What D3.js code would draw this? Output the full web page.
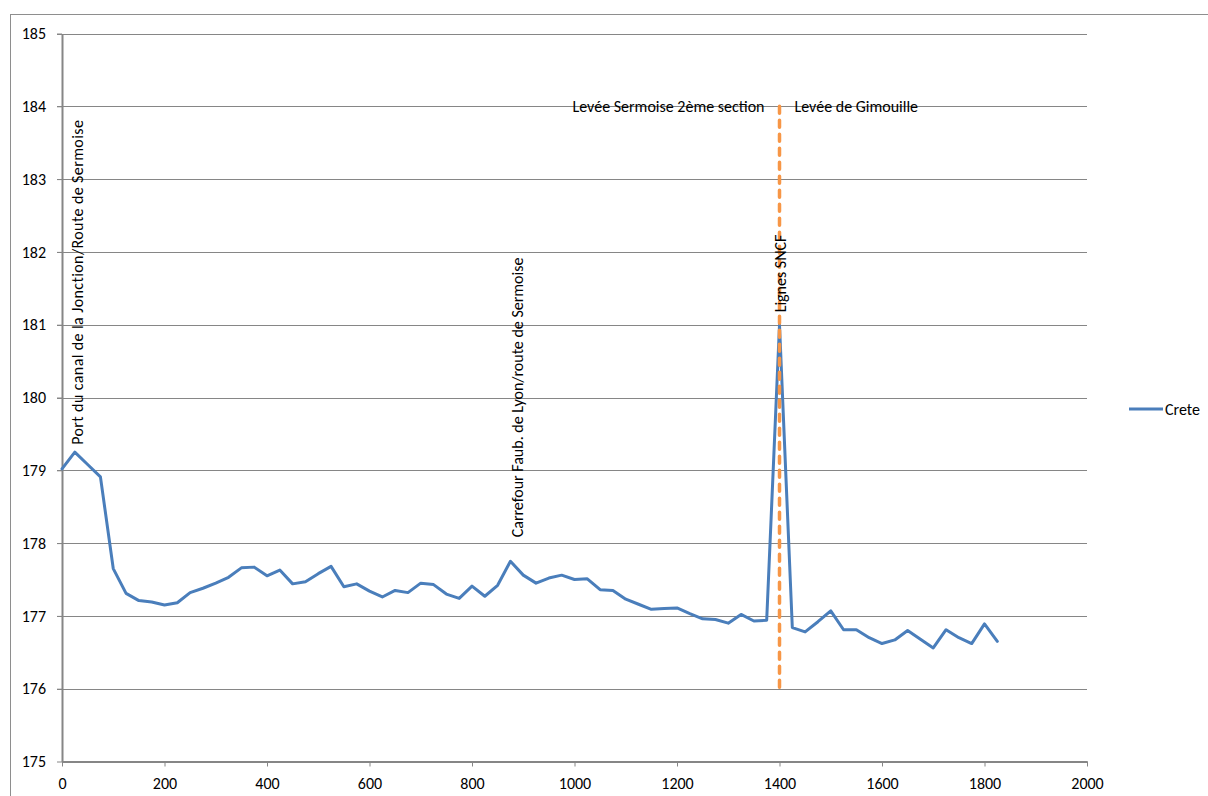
<!DOCTYPE html>
<html>
<head>
<meta charset="utf-8">
<script src="https://cdn.jsdelivr.net/npm/d3@7"></script>
<style>
  html, body { margin: 0; padding: 0; background: #ffffff; }
  svg { display: block; }
  text { font-family: Carlito, Lato, sans-serif; fill: #000000; }
</style>
</head>
<body>
<svg id="chart" width="1208" height="796"></svg>
<script>
// Distance along the levee (m) and crest elevation (m)
const distance = [
  0, 25, 50, 75, 100, 125, 150, 175, 200, 225, 250, 275, 300, 325, 350, 375,
  400, 425, 450, 475, 500, 525, 550, 575, 600, 625, 650, 675, 700, 725, 750, 775,
  800, 825, 850, 875, 900, 925, 950, 975, 1000, 1025, 1050, 1075, 1100, 1125, 1150, 1175,
  1200, 1225, 1250, 1275, 1300, 1325, 1350, 1375, 1400, 1425, 1450, 1475, 1500, 1525, 1550, 1575,
  1600, 1625, 1650, 1675, 1700, 1725, 1750, 1775, 1800, 1825
];
const crete = [
  179.02, 179.25, 179.08, 178.91, 177.65, 177.31, 177.21, 177.19, 177.15, 177.18, 177.32, 177.38, 177.45, 177.53, 177.66, 177.67,
  177.55, 177.63, 177.44, 177.47, 177.58, 177.68, 177.40, 177.44, 177.34, 177.26, 177.35, 177.32, 177.45, 177.43, 177.30, 177.24,
  177.41, 177.27, 177.42, 177.75, 177.56, 177.45, 177.52, 177.56, 177.50, 177.51, 177.36, 177.35, 177.23, 177.16, 177.09, 177.10,
  177.11, 177.03, 176.96, 176.95, 176.90, 177.02, 176.93, 176.94, 181.00, 176.84, 176.78, 176.92, 177.07, 176.81, 176.81, 176.70,
  176.62, 176.67, 176.80, 176.68, 176.56, 176.81, 176.70, 176.62, 176.89, 176.65
];
const seriesName = "Crete";

const xTicks = [0, 200, 400, 600, 800, 1000, 1200, 1400, 1600, 1800, 2000];
const yTicks = [175, 176, 177, 178, 179, 180, 181, 182, 183, 184, 185];

// Vertical place-name labels (baseline distance, bottom elevation)
const placeNames = [
  "Port du canal de la Jonction/Route de Sermoise",
  "Carrefour Faub. de Lyon/route de Sermoise",
  "Lignes SNCF"
];
const placeAt = [40, 900, 1413];
const placeFrom = [179.35, 178.08, 181.17];

// Boundary between the two levee sections
const boundaryAt = 1400;
const boundarySpan = [176, 184];
const sectionNames = ["Levée Sermoise 2ème section", "Levée de Gimouille"];

const svg = d3.select("#chart");
const gridColor = "#868686";
const lineColor = "#4A7EBB";
const boundaryColor = "#F79646";
const fontSize = 16;

const x = d3.scaleLinear().domain([0, 2000]).range([62, 1087]);
const y = d3.scaleLinear().domain([175, 185]).range([761.5, 33.5]);

// Chart area frame
svg.append("rect")
  .attr("x", 10.5).attr("y", 14.5)
  .attr("width", 1300).attr("height", 900)
  .attr("fill", "#ffffff")
  .attr("stroke", "#8e8e8e").attr("stroke-width", 1);

// Horizontal gridlines
svg.append("g")
  .selectAll("line")
  .data(yTicks.filter(v => v !== 175))
  .join("line")
  .attr("x1", x(0) - 5).attr("x2", x(2000))
  .attr("y1", d => Math.round(y(d)) + 0.5).attr("y2", d => Math.round(y(d)) + 0.5)
  .attr("stroke", gridColor).attr("stroke-width", 1);

// Y axis
const yAxis = svg.append("g")
  .attr("transform", `translate(${x(0)},0)`)
  .call(d3.axisLeft(y).tickValues(yTicks).tickSize(5).tickSizeOuter(0).tickPadding(11).tickFormat(d3.format("d")));

// X axis
const xAxis = svg.append("g")
  .attr("transform", `translate(0,${y(175)})`)
  .call(d3.axisBottom(x).tickValues(xTicks).tickSize(5).tickSizeOuter(0).tickPadding(11).tickFormat(d3.format("d")));

[yAxis, xAxis].forEach(g => {
  g.attr("font-family", null).attr("font-size", null);
  g.select(".domain").attr("stroke", gridColor).attr("stroke-width", 2);
  g.selectAll(".tick line").attr("stroke", gridColor).attr("stroke-width", 1);
  g.selectAll(".tick text").attr("font-size", fontSize).attr("fill", "#000");
});

// Crest profile
const points = distance.map((d, i) => [d, crete[i]]);
svg.append("path")
  .datum(points)
  .attr("fill", "none")
  .attr("stroke", lineColor)
  .attr("stroke-width", 3)
  .attr("stroke-linejoin", "round")
  .attr("stroke-linecap", "round")
  .attr("d", d3.line().x(d => x(d[0])).y(d => y(d[1])));

// Section boundary
svg.append("line")
  .attr("x1", x(boundaryAt)).attr("x2", x(boundaryAt))
  .attr("y1", y(boundarySpan[1])).attr("y2", y(boundarySpan[0]))
  .attr("stroke", boundaryColor)
  .attr("stroke-width", 3.5)
  .attr("stroke-dasharray", "7 7")
  .attr("stroke-linecap", "round");

// Section names either side of the boundary
svg.append("text")
  .attr("x", x(boundaryAt) - 15).attr("y", y(boundarySpan[1]))
  .attr("dy", "0.35em")
  .attr("text-anchor", "end")
  .attr("font-size", fontSize)
  .text(sectionNames[0]);
svg.append("text")
  .attr("x", x(boundaryAt) + 15).attr("y", y(boundarySpan[1]))
  .attr("dy", "0.35em")
  .attr("text-anchor", "start")
  .attr("font-size", fontSize)
  .text(sectionNames[1]);

// Vertical place-name labels (the long first one is set slightly looser)
svg.append("g")
  .selectAll("text")
  .data(placeNames)
  .join("text")
  .attr("transform", (d, i) => `translate(${x(placeAt[i])},${y(placeFrom[i])}) rotate(-90)`)
  .attr("text-anchor", "start")
  .attr("font-size", fontSize)
  .attr("letter-spacing", (d, i) => i === 0 ? 0.4 : null)
  .text(d => d);

// Legend
const legend = svg.append("g").attr("transform", "translate(1129,409)");
legend.append("line")
  .attr("x1", 0).attr("x2", 34)
  .attr("stroke", lineColor).attr("stroke-width", 3);
legend.append("text")
  .attr("x", 36).attr("dy", "0.35em")
  .attr("font-size", fontSize)
  .text(seriesName);
</script>
</body>
</html>
